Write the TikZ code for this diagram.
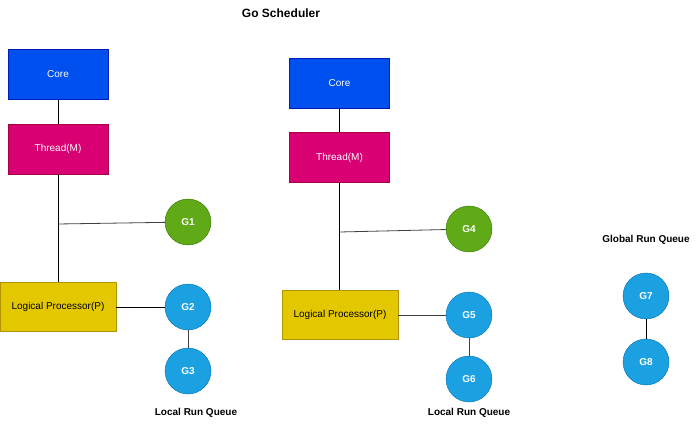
\documentclass[tikz,border=0pt]{standalone}
\usepackage{fontspec}
\setmainfont{Liberation Sans}
\definecolor{coreblue}{HTML}{0050EF}
\definecolor{coreedge}{HTML}{001DBC}
\definecolor{thrmag}{HTML}{D80073}
\definecolor{thredge}{HTML}{A50040}
\definecolor{ggreen}{HTML}{60A917}
\definecolor{gedge}{HTML}{2D7600}
\definecolor{pyellow}{HTML}{E3C800}
\definecolor{pedge}{HTML}{B09500}
\definecolor{gblue}{HTML}{1BA1E2}
\definecolor{gblueedge}{HTML}{006EAF}
\begin{document}
\begin{tikzpicture}[x=1pt,y=-1pt,
  every node/.style={font=\fontsize{10}{12}\selectfont},
  corebox/.style={draw=coreedge,fill=coreblue,text=white,minimum width=100pt,minimum height=50pt,inner sep=0pt},
  thrbox/.style={draw=thredge,fill=thrmag,text=white,minimum width=100pt,minimum height=50pt,inner sep=0pt},
  procbox/.style={draw=pedge,fill=pyellow,text=black,minimum width=116pt,minimum height=49pt,inner sep=0pt},
  gor/.style={circle,draw=gblueedge,fill=gblue,text=white,minimum size=46pt,inner sep=0pt,font=\fontsize{10}{12}\selectfont\bfseries},
  ggor/.style={gor,draw=gedge,fill=ggreen},
  lbl/.style={font=\fontsize{10}{12}\selectfont\bfseries},
  link/.style={draw=black,line width=0.8pt},
  glink/.style={draw=black!75,line width=0.8pt}]
\useasboundingbox (0,0) rectangle (700,427);
\node[lbl,font=\fontsize{12}{14}\selectfont\bfseries] (title) at (281,13) {Go Scheduler};
% left column
\node[corebox] (c1) at (58,74.5) {Core};
\node[thrbox] (t1) at (58,149) {Thread(M)};
\node[procbox] (p1) at (58,306.5) {Logical Processor(P)};
\node[ggor] (g1) at (188,222) {G1};
\node[gor] (g2) at (188,307) {G2};
\node[gor] (g3) at (188,371) {G3};
\node[lbl] (lq1) at (196,413) {Local Run Queue};
\coordinate (b1) at (58,224);
\draw[link] (c1) -- (t1);
\draw[link] (t1) -- (p1);
\draw[glink] (b1) -- (g1);
\draw[link] (p1.east |- g2) -- (g2);
\draw[glink] (g2) -- (g3);
% middle column
\node[corebox] (c2) at (339.5,83) {Core};
\node[thrbox] (t2) at (339.5,157.5) {Thread(M)};
\node[procbox] (p2) at (340,314.5) {Logical Processor(P)};
\node[ggor] (g4) at (469,229) {G4};
\node[gor] (g5) at (469,315) {G5};
\node[gor] (g6) at (469,379) {G6};
\node[lbl] (lq2) at (469,413) {Local Run Queue};
\coordinate (b2) at (339.5,232);
\draw[link] (c2) -- (t2);
\draw[link] (t2.south) -- (t2.south |- p2.north);
\draw[glink] (b2) -- (g4);
\draw[glink] (p2.east |- g5) -- (g5);
\draw[glink] (g5) -- (g6);
% right column
\node[lbl] (gq) at (646,240) {Global Run Queue};
\node[gor] (g7) at (646,296) {G7};
\node[gor] (g8) at (646,362) {G8};
\draw[link] (g7) -- (g8);
\end{tikzpicture}
\end{document}
